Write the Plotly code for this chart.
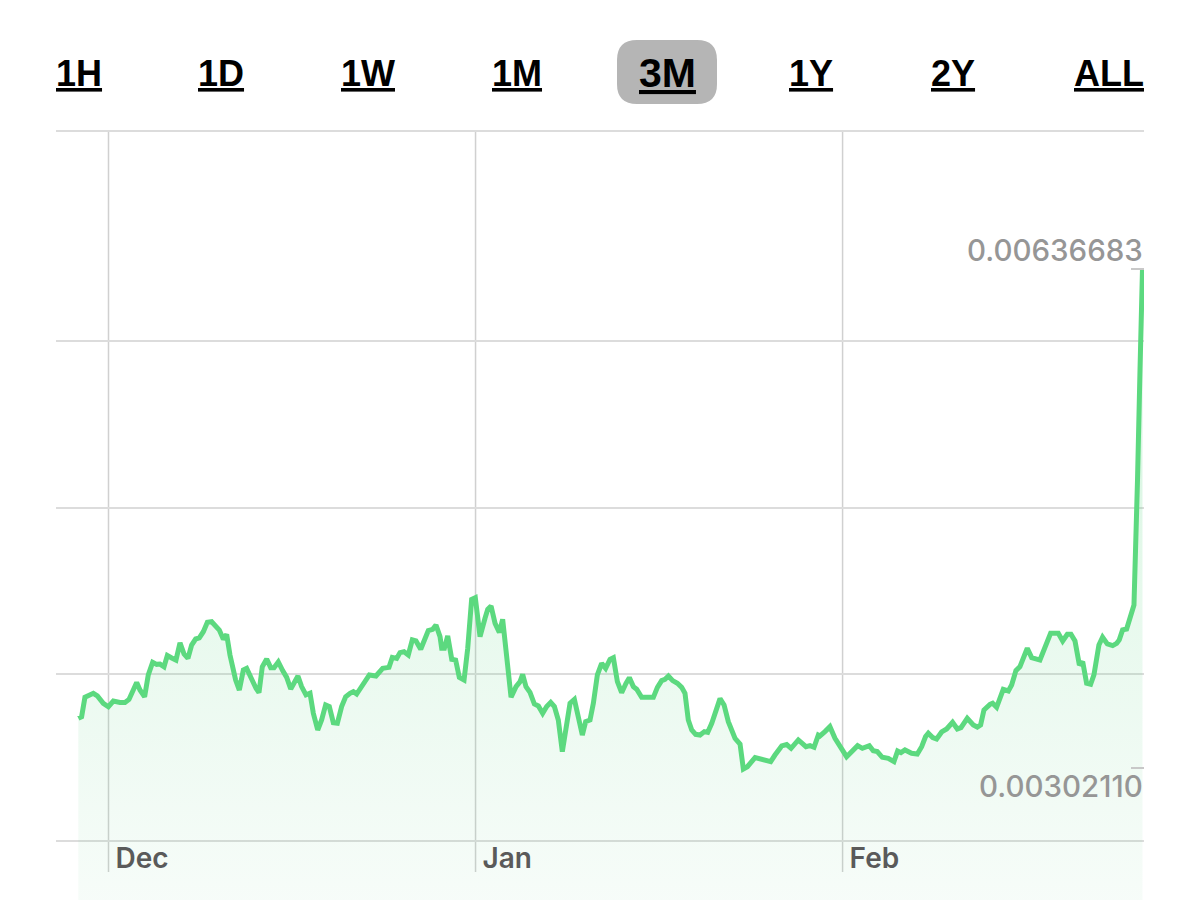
import pandas as pd
import plotly.graph_objects as go

# day offsets from 1 Dec
days = [-2.55, -2.27, -1.99, -1.56, -1.28, -0.94, -0.44, -0.01, 0.41, 0.97, 1.39, 1.73, 2.10, 2.38, 2.66, 3.05,
        3.36, 3.73, 4.07, 4.35, 4.69, 4.97, 5.34, 5.70, 6.04, 6.38, 6.71, 7.02, 7.36, 7.67, 8.01, 8.35, 8.71,
        9.05, 9.36, 9.70, 9.98, 10.26, 10.49, 10.74, 11.05, 11.39, 11.67, 12.09, 12.46, 12.71, 12.99, 13.36,
        13.70, 13.98, 14.34, 14.71, 15.05, 15.39, 15.75, 16.00, 16.31, 16.68, 17.02, 17.30, 17.67, 18.00, 18.34,
        18.65, 18.99, 19.33, 19.69, 20.03, 20.40, 20.68, 20.96, 21.38, 22.03, 22.59, 23.16, 23.69, 23.97, 24.34,
        24.62, 24.96, 25.32, 25.66, 25.97, 26.37, 26.73, 27.01, 27.38, 27.66,
        28.00, 28.14, 28.37, 28.65, 28.99, 29.32, 29.63, 30.03, 30.34, 30.67, 30.98, 31.38, 31.80, 32.03, 32.31,
        32.65, 33.01, 33.29, 33.57, 33.77, 34.00, 34.42, 34.76, 34.98, 35.26, 35.60, 35.97, 36.31, 36.67, 37.01,
        37.35, 37.66, 37.99, 38.33, 38.64, 38.98, 39.35, 39.68, 40.02, 40.30, 40.67, 40.95, 41.29, 41.65, 41.99,
        42.36, 42.64, 42.98, 43.34, 43.71, 43.99, 44.33, 44.61, 45.03, 45.60, 46.02, 46.36, 46.72, 47.00, 47.29,
        47.65, 48.05, 48.41, 48.69, 48.97, 49.26, 49.59, 49.96, 50.33, 50.61, 50.95, 51.37, 51.65, 51.99, 52.35,
        52.92, 53.34, 53.62, 53.96, 54.61, 55.17, 55.59, 55.93, 56.29, 56.86, 57.28, 57.65, 58.26, 58.91, 59.25,
        59.59, 59.95,
        60.09, 60.51, 60.93, 61.36, 61.78, 62.34, 63.27, 63.67, 64.26, 64.59, 64.93, 65.35, 65.86, 66.34, 66.65,
        66.93, 67.27, 67.83, 68.31, 68.68, 69.01, 69.24, 69.61, 69.94, 70.37, 70.79, 71.29, 71.69, 72.00, 72.53,
        73.04, 73.38, 73.66, 73.94, 74.45, 74.67, 75.01, 75.57, 76.00, 76.28, 76.64, 76.98, 77.60, 77.97, 78.67,
        79.09, 79.57, 80.22, 80.59, 80.98, 81.29, 81.63, 82.00, 82.28, 82.61, 82.95, 83.23, 83.65, 83.96, 84.36,
        84.81, 85.15, 85.37, 85.65, 85.99, 86.61, 86.69, 86.78, 86.91, 87.12, 87.33]

prices = [3354, 3365, 3495, 3515, 3522, 3504, 3455, 3432, 3470, 3461, 3461, 3481, 3555, 3595, 3544, 3499,
          3645, 3730, 3716, 3718, 3700, 3776, 3759, 3745, 3861, 3785, 3756, 3846, 3886, 3893, 3935, 3998, 4002,
          3969, 3946, 3884, 3917, 3779, 3689, 3611, 3544, 3678, 3689, 3611, 3555, 3526, 3700, 3752,
          3694, 3694, 3732, 3674, 3629, 3551, 3600, 3638, 3567, 3511, 3522, 3388, 3276, 3343, 3444,
          3433, 3325, 3321, 3433, 3499, 3522, 3533, 3517, 3567, 3645, 3638, 3689, 3696, 3763, 3756,
          3795, 3801, 3779, 3880, 3873, 3817, 3880, 3942, 3951, 3980,
          3902, 3824, 3824, 3907, 3750, 3745, 3629, 3611, 3824, 4152, 4163, 3902, 4025, 4085, 4107,
          3991, 3931, 4018, 3812, 3633, 3495, 3567, 3600, 3649, 3567, 3528, 3450, 3437, 3388, 3433,
          3461, 3433, 3343, 3131, 3276, 3455, 3481, 3343, 3242, 3332, 3343, 3455, 3645, 3723, 3689,
          3750, 3761, 3600, 3526, 3589, 3627, 3567, 3549, 3495, 3491, 3495, 3562, 3607, 3616, 3638,
          3607, 3589, 3562, 3522, 3343, 3276, 3247, 3242, 3265, 3260, 3321, 3422, 3486, 3444, 3332,
          3220, 3182, 3015, 3030, 3091, 3082, 3073, 3064, 3108, 3169, 3178, 3153, 3209, 3164, 3171,
          3160, 3242,
          3236, 3265, 3298, 3220, 3171, 3097, 3171, 3153, 3171, 3137, 3131, 3093, 3086, 3064, 3135,
          3124, 3142, 3120, 3115, 3164, 3232, 3254, 3225, 3216, 3263, 3283, 3328, 3283, 3292, 3354,
          3310, 3296, 3310, 3410, 3448, 3455, 3428, 3549, 3538, 3578, 3674, 3701, 3824, 3761, 3745,
          3824, 3924, 3924, 3873, 3918, 3918, 3873, 3712, 3734, 3589, 3582, 3645, 3846, 3898, 3853,
          3842, 3857, 3880, 3947, 3953, 4114, 4282, 4617, 4952, 5690, 6367]
prices = [p / 1e6 for p in prices]

range_labels = ["1H", "1D", "1W", "1M", "3M", "1Y", "2Y", "ALL"]
range_centers = [79, 221, 368, 517, 667, 811, 953, 1109]
active_range = "3M"

month_ticks = ["2020-12-01", "2021-01-01", "2021-02-01"]
month_labels = ["Dec", "Jan", "Feb"]

grid_values = [0.0025316, 0.0036514, 0.0047644, 0.0058840, 0.0072922]
price_low = 0.00302110
price_high = 0.00636683

GREEN = "#5cd97f"
WIDTH, HEIGHT = 1200, 900
LEFT, RIGHT, TOP = 56, 56, 120
Y_RANGE = [0.00213604, 0.0073660]
GRID_TOP, GRID_BOTTOM = 0.0072922, 0.0023238


def xp(px):
    return (px - LEFT) / (WIDTH - LEFT - RIGHT)


def yp(py):
    return (HEIGHT - py) / (HEIGHT - TOP)


def rounded_rect(x0, y0, x1, y1, r):
    # path in paper coordinates, sizes given in pixels
    return (f"M {xp(x0 + r)} {yp(y0)} L {xp(x1 - r)} {yp(y0)} Q {xp(x1)} {yp(y0)} {xp(x1)} {yp(y0 + r)} "
            f"L {xp(x1)} {yp(y1 - r)} Q {xp(x1)} {yp(y1)} {xp(x1 - r)} {yp(y1)} "
            f"L {xp(x0 + r)} {yp(y1)} Q {xp(x0)} {yp(y1)} {xp(x0)} {yp(y1 - r)} "
            f"L {xp(x0)} {yp(y0 + r)} Q {xp(x0)} {yp(y0)} {xp(x0 + r)} {yp(y0)} Z")


base = pd.Timestamp("2020-12-01")
dates = base + pd.to_timedelta(days, unit="D")
x_range = [(base + pd.Timedelta(days=-4.434)).isoformat(), (base + pd.Timedelta(days=87.458)).isoformat()]

fig = go.Figure()

# soft gradient under the line, see-through so the grid still shows
fig.add_trace(go.Scatter(
    x=dates, y=prices, mode="none", fill="tozeroy", hoverinfo="skip", showlegend=False,
    fillgradient=dict(
        type="vertical",
        start=Y_RANGE[0],
        stop=price_high,
        colorscale=[[0, "rgba(90,200,130,0.05)"], [0.5, "rgba(90,215,130,0.15)"], [1, "rgba(90,215,130,0.32)"]])))

fig.add_trace(go.Scatter(
    x=dates, y=prices, mode="lines", yaxis="y2", showlegend=False,
    line=dict(color=GREEN, width=5)))

# month lines stop short of the plot bottom, so shapes instead of axis grid
for tick in month_ticks:
    fig.add_shape(type="line", xref="x", yref="y", x0=tick, x1=tick, y0=GRID_BOTTOM, y1=GRID_TOP,
                  line=dict(color="#d0d0d0", width=1.5), layer="below")

fig.add_shape(type="path", xref="paper", yref="paper", path=rounded_rect(617, 40, 717, 104, 20),
              fillcolor="#b5b5b5", line_width=0, layer="below")

for label, center in zip(range_labels, range_centers):
    size = 41 if label == active_range else 36
    fig.add_annotation(x=xp(center), y=yp(73), xref="paper", yref="paper", text=f"<b><u>{label}</u></b>",
                       showarrow=False, xanchor="center", yanchor="middle",
                       font=dict(family="Liberation Sans", size=size, color="#000000"))

fig.add_annotation(x=xp(1144.5), y=price_high, xref="paper", yref="y", yshift=-1, text=f"{price_high:.8f}",
                   showarrow=False, xanchor="right", yanchor="bottom",
                   font=dict(family="Inter", size=29.5, color="#969696", weight=500))
fig.add_annotation(x=xp(1144.5), y=price_low, xref="paper", yref="y", yshift=2, text=f"{price_low:.8f}",
                   showarrow=False, xanchor="right", yanchor="top",
                   font=dict(family="Inter", size=29.5, color="#969696", weight=500))

fig.update_layout(
    width=WIDTH,
    height=HEIGHT,
    margin=dict(l=LEFT, r=RIGHT, t=TOP, b=0, pad=0),
    paper_bgcolor="white",
    plot_bgcolor="white",
    xaxis=dict(
        range=x_range, type="date", showgrid=False, zeroline=False, showline=False, ticks="",
        tickmode="array", tickvals=month_ticks, ticktext=month_labels,
        ticklabelposition="outside right", ticklabelshift=7, ticklabelstandoff=-2,
        anchor="free", position=yp(841), automargin=False,
        tickfont=dict(family="Inter", size=28, color="#5a5a5a", weight=600)),
    yaxis=dict(
        range=Y_RANGE, showgrid=True, gridcolor="#dcdcdc", gridwidth=2, zeroline=False,
        tickmode="array", tickvals=grid_values, showticklabels=False, ticks="", automargin=False),
    yaxis2=dict(
        range=Y_RANGE, overlaying="y", side="right", showgrid=False, zeroline=False,
        tickmode="array", tickvals=[price_low, price_high], showticklabels=False,
        ticks="inside", ticklen=13, tickwidth=2, tickcolor="#c8c8c8", automargin=False),
)

fig.write_html("out.html", config=dict(displayModeBar=False),
               post_script="document.body.style.margin='0';document.body.style.overflow='hidden';")
